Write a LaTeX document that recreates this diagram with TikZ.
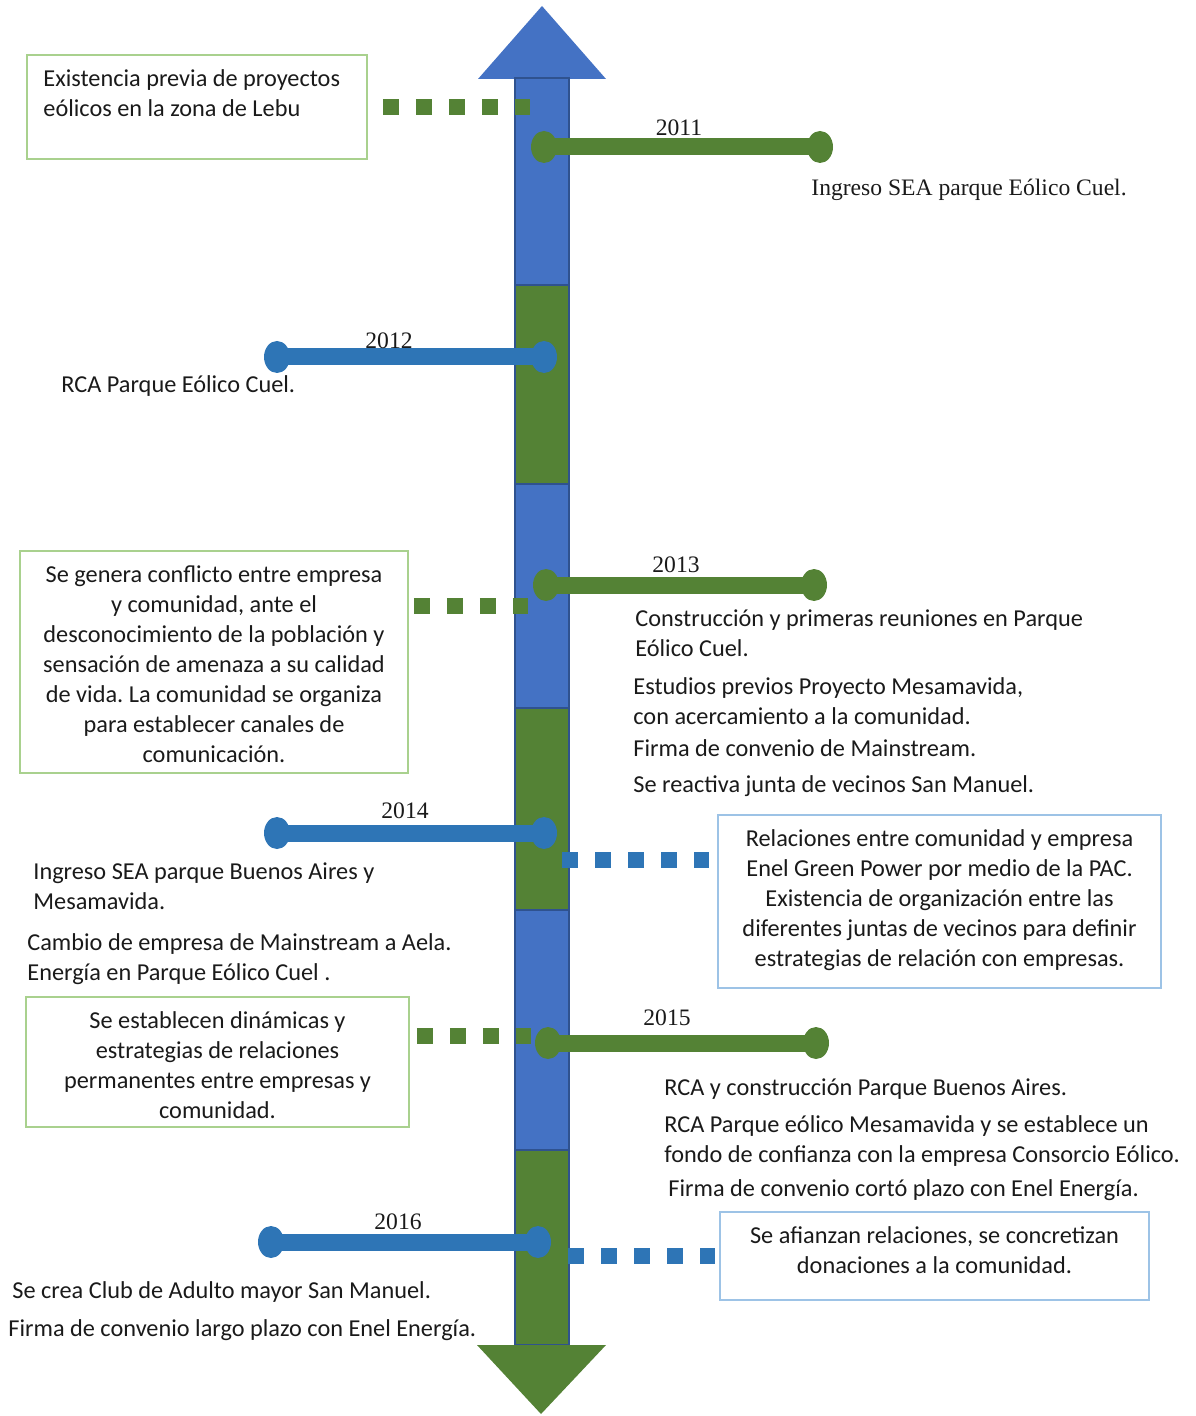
\documentclass[tikz,border=0pt]{standalone}
\usepackage{fontspec}
\setmainfont{Carlito}
\newfontfamily\seriffont{Liberation Serif}
\usetikzlibrary{shapes.geometric}
\definecolor{barblue}{HTML}{4472C4}
\definecolor{bargreen}{HTML}{548235}
\definecolor{edgeblue}{HTML}{2F528F}
\definecolor{lineblue}{HTML}{2E75B6}
\definecolor{boxgreen}{HTML}{A9D18E}
\definecolor{boxblue}{HTML}{9DC3E6}
\definecolor{txt}{HTML}{1A1A1A}
\frenchspacing
\begin{document}
\begin{tikzpicture}[x=0.5pt,y=-0.5pt,
  seg/.style={draw=edgeblue,line width=1pt},
  tl/.style={line width=8.5pt},
  tdot/.style={ellipse,inner sep=0pt,minimum width=13pt,minimum height=16pt},
  dashc/.style={line width=8pt,dash pattern=on 8pt off 8.5pt},
  evbox/.style={rectangle,line width=0.8pt,inner sep=0pt},
  body/.style={inner sep=0pt,font=\fontsize{12.15}{15}\selectfont\frenchspacing,text=txt},
  yr/.style={inner sep=0pt,font=\seriffont\fontsize{11.8}{15}\selectfont,text=txt},
]
\useasboundingbox (0,0) rectangle (1195,1416);
% ---- central bar ----
\fill[barblue] (478,79) -- (542,6) -- (606,79) -- cycle;
\filldraw[seg,fill=barblue]  (515,78)  rectangle (569,285);
\filldraw[seg,fill=bargreen] (515,285) rectangle (569,484);
\filldraw[seg,fill=barblue]  (515,484) rectangle (569,708);
\filldraw[seg,fill=bargreen] (515,708) rectangle (569,910);
\filldraw[seg,fill=barblue]  (515,910) rectangle (569,1150);
\filldraw[seg,fill=bargreen] (515,1150) rectangle (569,1345);
\fill[bargreen] (477,1345) -- (606,1345) -- (541,1414) -- cycle;

% ---- boxes ----
\node[evbox,draw=boxgreen,minimum width=170pt,minimum height=52pt] (b1) at (197,107) {};
\node[body,anchor=north west,align=left] (b1t) at (43,69) {Existencia previa de proyectos\\eólicos en la zona de Lebu};
\node[evbox,draw=boxgreen,minimum width=194pt,minimum height=111pt] (b2) at (214,662) {};
\node[body,anchor=north,align=center] (b2t) at (214,565) {Se genera conflicto entre empresa\\y comunidad, ante el\\desconocimiento de la población y\\sensación de amenaza a su calidad\\de vida. La comunidad se organiza\\para establecer canales de\\comunicación.};
\node[evbox,draw=boxblue,minimum width=221.5pt,minimum height=86.5pt] (b3) at (939.5,901.5) {};
\node[body,anchor=north,align=center] (b3t) at (939.5,829) {Relaciones entre comunidad y empresa\\Enel Green Power por medio de la PAC.\\Existencia de organización entre las\\diferentes juntas de vecinos para definir\\estrategias de relación con empresas.};
\node[evbox,draw=boxgreen,minimum width=191.5pt,minimum height=65pt] (b4) at (217.5,1062) {};
\node[body,anchor=north,align=center] (b4t) at (217.5,1011) {Se establecen dinámicas y\\estrategias de relaciones\\permanentes entre empresas y\\comunidad.};
\node[evbox,draw=boxblue,minimum width=214.5pt,minimum height=44pt] (b5) at (934.5,1256) {};
\node[body,anchor=north,align=center] (b5t) at (934.5,1226) {Se afianzan relaciones, se concretizan\\donaciones a la comunidad.};

% ---- dotted connectors ----
\coordinate (k1) at (530,107);
\draw[dashc,bargreen] ([xshift=7.5pt]b1.east) -- (k1);
\coordinate (k2) at (528,606);
\path (b2.east |- k2) coordinate (k2s);
\draw[dashc,bargreen] ([xshift=2.5pt]k2s) -- (k2);
\coordinate (k3) at (562,860);
\path (b3.west |- k3) coordinate (k3e);
\draw[dashc,lineblue] (k3) -- ([xshift=-4pt]k3e);
\coordinate (k4) at (531,1036);
\path (b4.east |- k4) coordinate (k4s);
\draw[dashc,bargreen] ([xshift=3.5pt]k4s) -- (k4);
\coordinate (k5) at (568,1256);
\draw[dashc,lineblue] (k5) -- ([xshift=-2pt]b5.west);

% ---- timeline events ----
\node[tdot,fill=bargreen] (a11) at (544,147) {};
\node[tdot,fill=bargreen] (e11) at (820,147) {};
\draw[tl,bargreen] (a11.center) -- (e11.center);
\node[yr] (y11) at (679,128) {2011};

\node[tdot,fill=lineblue] (a12) at (544,357) {};
\node[tdot,fill=lineblue] (e12) at (277,357) {};
\draw[tl,lineblue] (a12.center) -- (e12.center);
\node[yr] (y12) at (389,341) {2012};

\node[tdot,fill=bargreen] (a13) at (546,585) {};
\node[tdot,fill=bargreen] (e13) at (814,585) {};
\draw[tl,bargreen] (a13.center) -- (e13.center);
\node[yr] (y13) at (676,565) {2013};

\node[tdot,fill=lineblue] (a14) at (544,833) {};
\node[tdot,fill=lineblue] (e14) at (277,833) {};
\draw[tl,lineblue] (a14.center) -- (e14.center);
\node[yr] (y14) at (405,811) {2014};

\node[tdot,fill=bargreen] (a15) at (548,1043) {};
\node[tdot,fill=bargreen] (e15) at (816,1043) {};
\draw[tl,bargreen] (a15.center) -- (e15.center);
\node[yr] (y15) at (667,1018) {2015};

\node[tdot,fill=lineblue] (a16) at (538,1242) {};
\node[tdot,fill=lineblue] (e16) at (271,1242) {};
\draw[tl,lineblue] (a16.center) -- (e16.center);
\node[yr] (y16) at (398,1222) {2016};

% ---- free texts ----
\node[yr,anchor=north west] (t11) at (811,179) {Ingreso SEA parque Eólico Cuel.};
\node[body,anchor=north west] (t12) at (61,375) {RCA Parque Eólico Cuel.};
\node[body,anchor=north west,align=left] (t13a) at (635,609) {Construcción y primeras reuniones en Parque\\Eólico Cuel.};
\node[body,anchor=north west,align=left] (t13b) at (633,677) {Estudios previos Proyecto Mesamavida,\\con acercamiento a la comunidad.};
\node[body,anchor=north west] (t13c) at (633,739) {Firma de convenio de Mainstream.};
\node[body,anchor=north west] (t13d) at (633,775) {Se reactiva junta de vecinos San Manuel.};
\node[body,anchor=north west,align=left] (t14a) at (33,862) {Ingreso SEA parque Buenos Aires y\\Mesamavida.};
\node[body,anchor=north west,align=left] (t14b) at (27,933) {Cambio de empresa de Mainstream a Aela.\\Energía en Parque Eólico Cuel .};
\node[body,anchor=north west] (t15a) at (664,1078) {RCA y construcción Parque Buenos Aires.};
\node[body,anchor=north west,align=left] (t15b) at (664,1115) {RCA Parque eólico Mesamavida y se establece un\\fondo de confianza con la empresa Consorcio Eólico.};
\node[body,anchor=north west] (t15c) at (668,1179) {Firma de convenio cortó plazo con Enel Energía.};
\node[body,anchor=north west] (t16a) at (12,1281) {Se crea Club de Adulto mayor San Manuel.};
\node[body,anchor=north west] (t16b) at (8,1319) {Firma de convenio largo plazo con Enel Energía.};
\end{tikzpicture}
\end{document}
